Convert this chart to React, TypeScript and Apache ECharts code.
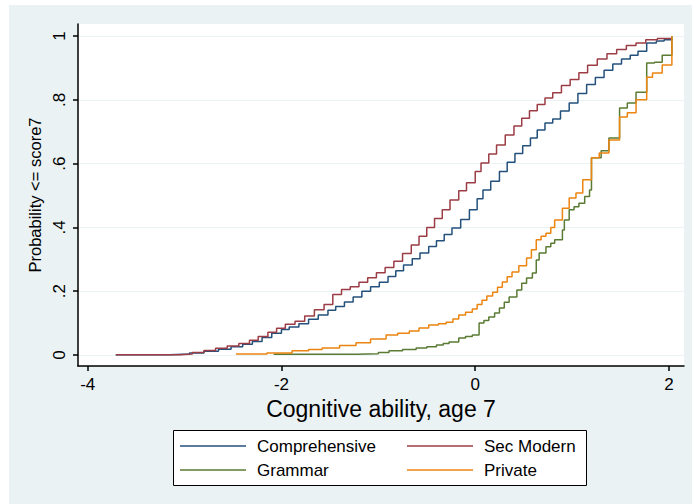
import React, { useEffect, useRef } from "react";
import * as echarts from "echarts";

const seriesNames = ["Comprehensive", "Sec Modern", "Grammar", "Private"];
const seriesColors = ["#24517c", "#9c3c45", "#5a7b33", "#ec8410"];

const compX = [-3.71, -3.15, -2.95, -2.8, -2.65, -2.52, -2.4, -2.3, -2.2, -2.1, -2.0, -1.92, -1.82, -1.72, -1.62, -1.52, -1.44, -1.35, -1.26, -1.17, -1.08, -0.99, -0.9, -0.82, -0.74, -0.65, -0.57, -0.48, -0.4, -0.32, -0.24, -0.15, -0.06, 0.02, 0.08, 0.16, 0.25, 0.33, 0.41, 0.49, 0.57, 0.64, 0.72, 0.8, 0.88, 0.97, 1.06, 1.15, 1.24, 1.33, 1.42, 1.51, 1.6, 1.68, 1.77, 1.87, 1.95, 2.03];
const compY = [0.001, 0.003, 0.006, 0.012, 0.018, 0.026, 0.034, 0.042, 0.055, 0.068, 0.08, 0.088, 0.098, 0.112, 0.125, 0.14, 0.152, 0.166, 0.182, 0.2, 0.214, 0.228, 0.246, 0.264, 0.282, 0.302, 0.32, 0.34, 0.358, 0.378, 0.398, 0.425, 0.455, 0.49, 0.517, 0.545, 0.575, 0.604, 0.632, 0.656, 0.68, 0.705, 0.727, 0.74, 0.765, 0.79, 0.82, 0.848, 0.87, 0.893, 0.912, 0.928, 0.94, 0.952, 0.978, 0.984, 0.988, 0.991];

const secX = [-3.71, -3.04, -2.92, -2.8, -2.68, -2.56, -2.44, -2.33, -2.24, -2.14, -2.05, -1.96, -1.86, -1.76, -1.66, -1.56, -1.47, -1.38, -1.29, -1.2, -1.11, -1.02, -0.93, -0.84, -0.75, -0.66, -0.58, -0.5, -0.42, -0.34, -0.26, -0.17, -0.09, 0.0, 0.06, 0.14, 0.22, 0.31, 0.4, 0.48, 0.56, 0.64, 0.72, 0.8, 0.89, 0.98, 1.07, 1.16, 1.26, 1.36, 1.46, 1.56, 1.66, 1.76, 1.88, 2.03];
const secY = [0.001, 0.003, 0.008, 0.014, 0.021, 0.028, 0.036, 0.046, 0.058, 0.071, 0.084, 0.096, 0.106, 0.122, 0.142, 0.158, 0.19, 0.205, 0.214, 0.228, 0.242, 0.258, 0.274, 0.294, 0.318, 0.345, 0.372, 0.4, 0.428, 0.455, 0.486, 0.515, 0.54, 0.575, 0.602, 0.63, 0.658, 0.69, 0.718, 0.742, 0.766, 0.785, 0.806, 0.822, 0.845, 0.864, 0.885, 0.908, 0.928, 0.944, 0.958, 0.97, 0.978, 0.988, 0.992, 0.994];

const gramX = [-2.08, -1.23, -1.0, -0.89, -0.75, -0.61, -0.5, -0.4, -0.33, -0.27, -0.17, -0.1, -0.03, 0.04, 0.09, 0.14, 0.2, 0.25, 0.3, 0.35, 0.43, 0.48, 0.53, 0.59, 0.63, 0.66, 0.73, 0.78, 0.82, 0.9, 0.92, 0.97, 1.02, 1.07, 1.13, 1.18, 1.2, 1.3, 1.38, 1.49, 1.57, 1.66, 1.77, 1.85, 1.93, 2.03];
const gramY = [0.002, 0.004, 0.008, 0.013, 0.017, 0.022, 0.026, 0.031, 0.036, 0.041, 0.053, 0.058, 0.063, 0.1, 0.108, 0.119, 0.132, 0.147, 0.165, 0.182, 0.204, 0.225, 0.241, 0.257, 0.298, 0.32, 0.339, 0.35, 0.361, 0.392, 0.423, 0.455, 0.465, 0.476, 0.497, 0.517, 0.618, 0.64, 0.68, 0.774, 0.79, 0.824, 0.915, 0.918, 0.94, 1.0];

const privX = [-2.47, -2.15, -1.89, -1.72, -1.58, -1.4, -1.23, -1.08, -0.92, -0.8, -0.68, -0.58, -0.48, -0.38, -0.3, -0.23, -0.17, -0.1, -0.03, 0.02, 0.07, 0.12, 0.18, 0.23, 0.28, 0.33, 0.38, 0.45, 0.53, 0.58, 0.63, 0.68, 0.73, 0.78, 0.82, 0.9, 0.97, 1.04, 1.11, 1.2, 1.28, 1.38, 1.49, 1.57, 1.66, 1.77, 1.83, 1.93, 2.03];
const privY = [0.003, 0.006, 0.013, 0.017, 0.022, 0.03, 0.038, 0.05, 0.063, 0.068, 0.075, 0.085, 0.094, 0.098, 0.103, 0.113, 0.125, 0.134, 0.144, 0.158, 0.172, 0.185, 0.197, 0.212, 0.229, 0.245, 0.26, 0.28, 0.304, 0.33, 0.361, 0.372, 0.382, 0.4, 0.423, 0.46, 0.492, 0.508, 0.549, 0.618, 0.633, 0.674, 0.746, 0.759, 0.8, 0.871, 0.884, 0.909, 1.0];

const xTicks = [-4, -2, 0, 2];
const yTicks = [0, 0.2, 0.4, 0.6, 0.8, 1];
const yTickLabels = ["0", ".2", ".4", ".6", ".8", "1"];

const xTitle = "Cognitive ability, age 7";
const yTitle = "Probability <= score7";

const FONT = "'Liberation Sans', Arial, sans-serif";

function zip(xs: number[], ys: number[]) {
  return xs.map((x, i) => [x, ys[i]]);
}

export default function App() {
  const ref = useRef<HTMLDivElement>(null);
  useEffect(() => {
    document.body.style.margin = "0";
    const chart = echarts.init(ref.current!, null, { renderer: "svg" });
    const dataSets = [zip(compX, compY), zip(secX, secY), zip(gramX, gramY), zip(privX, privY)];
    const legendCommon = {
      orient: "vertical",
      top: 431,
      icon: "rect",
      itemWidth: 66,
      itemHeight: 1.5,
      itemGap: 4,
      z: 5,
      textStyle: { fontSize: 17, lineHeight: 20, color: "#000", fontFamily: FONT, padding: [0, 0, 0, 6] },
    };
    const option: any = {
      animation: false,
      backgroundColor: "#ffffff",
      textStyle: { fontFamily: FONT },
      graphic: [
        {
          type: "rect",
          shape: { x: 9, y: 5, width: 683, height: 499 },
          style: { fill: "#eaf2f3" },
          z: -10,
          silent: true,
        },
        {
          type: "rect",
          shape: { x: 173.5, y: 430.5, width: 413, height: 55 },
          style: { fill: "#ffffff", stroke: "#000000", lineWidth: 1 },
          z: 1,
          silent: true,
        },
      ],
      grid: {
        left: 78,
        right: 8,
        top: 24,
        bottom: 138,
        show: true,
        backgroundColor: "#ffffff",
        borderWidth: 0,
        containLabel: false,
        outerBoundsMode: "none",
      },
      legend: [
        { ...legendCommon, data: [seriesNames[0], seriesNames[2]], left: 175 },
        { ...legendCommon, data: [seriesNames[1], seriesNames[3]], left: 402 },
      ],
      xAxis: {
        type: "value",
        min: -4.1,
        max: 2.155,
        name: xTitle,
        nameLocation: "middle",
        nameGap: 28,
        nameTextStyle: { fontSize: 23, color: "#000", fontFamily: FONT },
        axisLine: { show: true, onZero: false, lineStyle: { color: "#000", width: 1.5 } },
        axisTick: { show: true, length: 5, inside: false, customValues: xTicks, lineStyle: { color: "#000", width: 1.5 } },
        axisLabel: { customValues: xTicks, fontSize: 17, color: "#000", margin: 10, fontFamily: FONT },
        splitLine: { show: false },
      },
      yAxis: {
        type: "value",
        min: -0.0345,
        max: 1.0376,
        name: yTitle,
        nameLocation: "middle",
        nameGap: 31,
        nameRotate: 90,
        nameTextStyle: { fontSize: 16.5, color: "#000", fontFamily: FONT },
        axisLine: { show: true, onZero: false, lineStyle: { color: "#000", width: 1.5 } },
        axisTick: { show: true, length: 5, inside: false, customValues: yTicks, lineStyle: { color: "#000", width: 1.5 } },
        axisLabel: {
          customValues: yTicks,
          rotate: 90,
          fontSize: 17,
          color: "#000",
          margin: 10,
          fontFamily: FONT,
          formatter: (v: number) => {
            const idx = yTicks.findIndex((t) => Math.abs(t - v) < 1e-6);
            return idx >= 0 ? yTickLabels[idx] : "";
          },
        },
        splitLine: { show: true, lineStyle: { color: "#eaf2f3", width: 1.2 } },
      },
      series: seriesNames.map((name, i) => ({
        name,
        type: "line",
        step: "end",
        symbol: "none",
        showSymbol: false,
        data: dataSets[i],
        lineStyle: { color: seriesColors[i], width: 1.5 },
        itemStyle: { color: seriesColors[i] },
        z: 3,
      })),
    };
    chart.setOption(option);
    return () => chart.dispose();
  }, []);
  return <div ref={ref} style={{ width: 692, height: 504, position: "fixed", left: 0, top: 0 }} />;
}
